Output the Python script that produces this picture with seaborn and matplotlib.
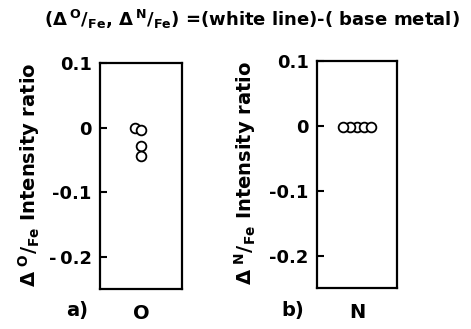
import matplotlib
matplotlib.use("Agg")
import matplotlib.pyplot as plt
import pandas as pd
import seaborn as sns

# values
o_element = ["O", "O", "O", "O"]
o_ratio = [0.0, -0.004, -0.029, -0.044]
n_element = ["N", "N", "N", "N", "N"]
n_ratio = [-0.002, -0.002, -0.002, -0.002, -0.002]

ytick_values = [0.1, 0.0, -0.1, -0.2]
ytick_labels_o = ["0.1", "0", "-0.1", "-\u20090.2"]
ytick_labels_n = ["0.1", "0", "-0.1", "-0.2"]

title = r"($\Delta\,^{O}/_{Fe}$, $\Delta\,^{N}/_{Fe}$) =(white line)-( base metal)"
ylabel_o = r"$\Delta\;^{O}/_{Fe}$ Intensity ratio"
ylabel_n = r"$\Delta\;^{N}/_{Fe}$ Intensity ratio"

sns.set_style("white")
plt.rcParams["font.family"] = ["DejaVu Sans"]
plt.rcParams["font.weight"] = "bold"
plt.rcParams["mathtext.fontset"] = "dejavusans"
plt.rcParams["mathtext.default"] = "bf"
plt.rcParams["text.color"] = "black"
plt.rcParams["axes.labelcolor"] = "black"
plt.rcParams["xtick.color"] = "black"
plt.rcParams["ytick.color"] = "black"

fig = plt.figure(figsize=(4.71, 3.29), dpi=100)
ax_o = fig.add_axes([0.212, 0.1216, 0.174, 0.687])
ax_n = fig.add_axes([0.673, 0.1246, 0.170, 0.690])

df_o = pd.DataFrame({"element": o_element, "ratio": o_ratio})
df_n = pd.DataFrame({"element": n_element, "ratio": n_ratio})

panels = [
    (ax_o, df_o, ytick_labels_o, ylabel_o, -0.71),
    (ax_n, df_n, ytick_labels_n, ylabel_n, -0.74),
]

for ax, df, ticklabels, ylabel, label_x in panels:
    # small size here so the swarm packs the circles tightly like the original
    sns.swarmplot(data=df, x="element", y="ratio", ax=ax, size=3.4,
                  color="white", edgecolor="black", linewidth=1.3)
    ax.set_ylim(-0.25, 0.1)
    ax.set_yticks(ytick_values)
    ax.set_yticklabels(ticklabels, fontsize=13, fontweight="bold")
    ax.set_xlabel("")
    ax.set_ylabel(ylabel, fontsize=14, fontweight="bold")
    ax.yaxis.set_label_coords(label_x, 0.505)
    ax.tick_params(axis="y", direction="in", length=5, width=1.5, pad=6,
                   left=True, right=False)
    ax.tick_params(axis="x", length=0, pad=11, labelsize=14)
    for lbl in ax.get_xticklabels():
        lbl.set_fontweight("bold")
    for sp in ax.spines.values():
        sp.set_visible(True)
        sp.set_color("black")
        sp.set_linewidth(1.6)

fig.text(0.535, 0.942, title, ha="center", va="center", fontsize=13,
         fontweight="bold")
fig.text(0.164, 0.055, "a)", ha="center", va="center", fontsize=14, fontweight="bold")
fig.text(0.622, 0.055, "b)", ha="center", va="center", fontsize=14, fontweight="bold")

# let the swarm lay the points out, then draw them at the real marker size
fig.canvas.draw()
for ax in (ax_o, ax_n):
    for coll in ax.collections:
        if "draw" in coll.__dict__:
            del coll.draw
        coll.set_sizes([7.0 ** 2])
        coll.set_linewidth(1.3)

fig.savefig("out.png", dpi=100)
